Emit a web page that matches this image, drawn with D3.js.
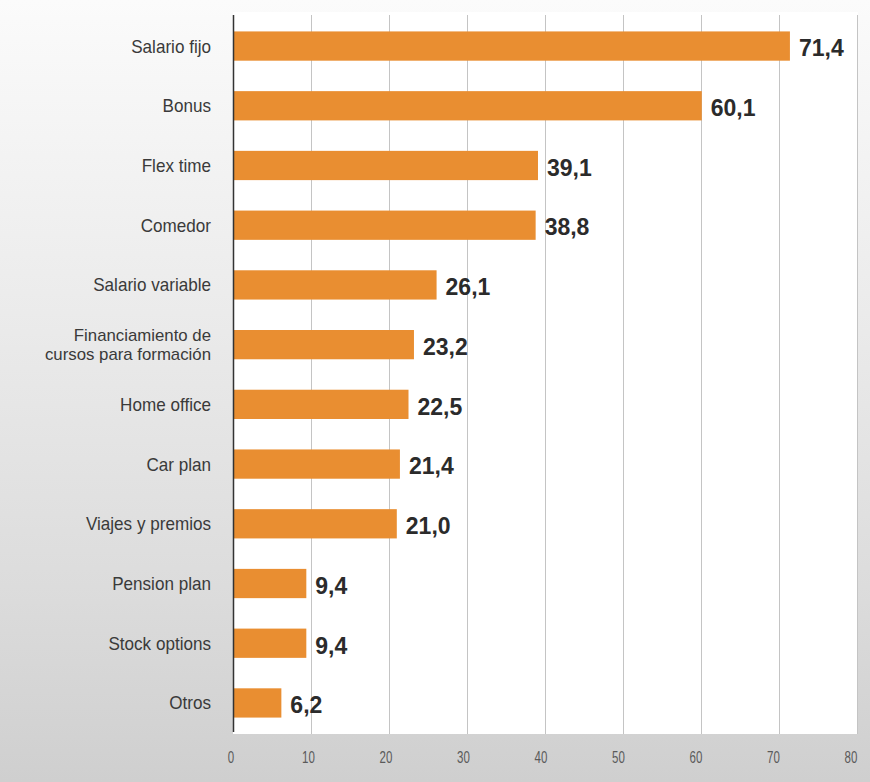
<!DOCTYPE html>
<html>
<head>
<meta charset="utf-8">
<script src="https://cdn.jsdelivr.net/npm/d3@7"></script>
<style>
  html, body { margin: 0; padding: 0; }
  svg { display: block; }
</style>
</head>
<body>
<svg id="chart"></svg>
<script>
const categories = [
  "Salario fijo", "Bonus", "Flex time", "Comedor", "Salario variable",
  "Financiamiento de|cursos para formación", "Home office", "Car plan",
  "Viajes y premios", "Pension plan", "Stock options", "Otros"
];
const values = [71.4, 60.1, 39.1, 38.8, 26.1, 23.2, 22.5, 21.4, 21.0, 9.4, 9.4, 6.2];
const tickValues = [0, 10, 20, 30, 40, 50, 60, 70, 80];

const width = 870, height = 782;
const margin = { top: 15, right: 13, bottom: 48, left: 233 };

const svg = d3.select("#chart").attr("width", width).attr("height", height);

// background gradient
const grad = svg.append("defs").append("linearGradient")
  .attr("id", "bg").attr("x1", 0).attr("y1", 0).attr("x2", 0).attr("y2", 1);
[[0, "#fbfbfb"], [0.4, "#ebebeb"], [0.75, "#dcdcdc"], [1, "#cfcfcf"]].forEach(s => {
  grad.append("stop").attr("offset", s[0]).attr("stop-color", s[1]);
});
svg.append("rect").attr("width", width).attr("height", height).attr("fill", "url(#bg)");

const x = d3.scaleLinear().domain([0, 80]).range([margin.left, width - margin.right]);
const y = d3.scaleBand().domain(categories)
  .range([margin.top, height - margin.bottom])
  .paddingInner(0.51).paddingOuter(0.275);

// white plot area
svg.append("rect")
  .attr("x", x(0)).attr("y", margin.top - 3)
  .attr("width", x(80) - x(0) + 1).attr("height", height - margin.bottom - margin.top + 3)
  .attr("fill", "#ffffff");

// gridlines
svg.append("g").selectAll("line")
  .data(tickValues.filter(d => d > 0))
  .join("line")
  .attr("x1", d => x(d) + 0.5).attr("x2", d => x(d) + 0.5)
  .attr("y1", margin.top).attr("y2", height - margin.bottom)
  .attr("stroke", "#c4c4c4").attr("stroke-width", 1);

// bars
svg.append("g").selectAll("rect")
  .data(values)
  .join("rect")
  .attr("x", x(0))
  .attr("y", (d, i) => y(categories[i]))
  .attr("width", d => x(d) - x(0))
  .attr("height", y.bandwidth())
  .attr("fill", "#e98e31");

// value labels
svg.append("g").selectAll("text")
  .data(values)
  .join("text")
  .attr("x", d => x(d) + 9)
  .attr("y", (d, i) => y(categories[i]) + y.bandwidth() / 2 + 2)
  .attr("dy", "0.36em")
  .attr("font-family", "Liberation Sans, Arial, sans-serif")
  .attr("font-weight", "bold")
  .attr("font-size", 23)
  .attr("fill", "#2b2b2b")
  .text(d => d.toFixed(1).replace(".", ","));

// y axis line
svg.append("line")
  .attr("x1", x(0) + 0.5).attr("x2", x(0) + 0.5)
  .attr("y1", margin.top).attr("y2", height - margin.bottom - 2)
  .attr("stroke", "#333").attr("stroke-width", 1.5);

// category labels (slightly condensed)
const catG = svg.append("g")
  .attr("font-family", "Liberation Sans, Arial, sans-serif")
  .attr("fill", "#3a3a3a")
  .attr("text-anchor", "end");
categories.forEach(c => {
  const lines = c.split("|");
  const cy = y(c) + y.bandwidth() / 2;
  const multi = lines.length > 1;
  const lh = 18.5;
  const t = catG.append("text")
    .attr("font-size", multi ? 16 : 18)
    .attr("transform", `translate(211,${cy - (lines.length - 1) * lh / 2}) scale(${multi ? 1.05 : 0.95},1)`);
  lines.forEach((l, j) => {
    t.append("tspan").attr("x", 0).attr("dy", j === 0 ? "0.36em" : lh).text(l);
  });
});

// x axis tick labels (narrow, tall)
svg.append("g").selectAll("text")
  .data(tickValues)
  .join("text")
  .attr("transform", d => `translate(${x(d) - 2 - d * 0.05},757) scale(0.72,1)`)
  .attr("dy", "0.36em")
  .attr("text-anchor", "middle")
  .attr("font-family", "Liberation Sans, Arial, sans-serif")
  .attr("font-size", 16)
  .attr("fill", "#5a5a5a")
  .text(d => d);
</script>
</body>
</html>
